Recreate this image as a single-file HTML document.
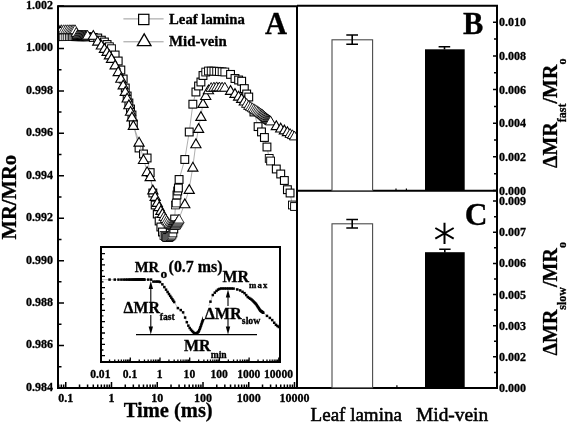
<!DOCTYPE html>
<html><head><meta charset="utf-8"><style>
html,body{margin:0;padding:0;background:#fff;overflow:hidden;}
svg{display:block;will-change:transform;filter:blur(0.3px);}
.b{font-family:"Liberation Serif",serif;font-weight:bold;fill:#000;stroke:#000;stroke-width:0.3px;}
.r{font-family:"Liberation Serif",serif;font-weight:normal;fill:#000;stroke:#000;stroke-width:0.25px;}
</style></head><body>
<svg width="567" height="423" viewBox="0 0 567 423">
<rect x="0" y="0" width="567" height="423" fill="#fff"/>
<defs><clipPath id="cA"><rect x="59" y="7" width="237" height="380"/></clipPath></defs>
<g clip-path="url(#cA)">
<path d="M51.98,36.65 L55.6,36.65 L58.66,36.66 L61.32,36.66 L63.66,36.66 L65.75,36.67 L67.64,36.67 L69.37,36.67 L70.96,36.68 L72.44,36.68 L73.81,36.68 L75.09,36.68 L76.29,36.68 L77.43,36.68 L78.5,36.69 L79.52,36.69 L80.49,36.69 L81.42,36.69 L82.3,36.69 L83.14,36.69 L83.96,36.69 L84.74,36.7 L85.48,36.7 L86.21,36.7 L86.9,36.7 L87.58,36.7 L93.29,37.43 L97.73,38 L101.35,40.17 L104.41,42 L107.07,44.51 L109.41,46.72 L111.5,48.7 L115.12,55 L118.19,61 L120.84,70 L123.18,79 L125.27,88 L127.17,96 L128.89,103 L130.49,109 L131.96,115 L133.33,124 L139.04,148 L143.48,154 L147.1,158 L150.16,172.6 L152.82,193 L155.16,205 L157.25,214 L159.14,221 L160.87,227 L162.46,232 L163.94,235.5 L165.31,236.53 L166.59,237.5 L167.79,237.5 L168.93,237.5 L170,236.73 L171.02,236 L171.99,235 L172.92,233 L173.8,229 L174.64,219 L175.46,205 L176.24,203 L176.98,195 L177.71,191 L178.4,188 L179.08,179.5 L184.79,159.5 L189.23,132 L192.85,104.2 L195.91,92 L198.57,86 L200.91,82 L203,75.5 L205.73,72.06 L208.46,71 L211.19,71.1 L213.91,71.2 L216.64,71.3 L219.37,71.53 L222.1,71.76 L224.83,72 L230.54,74.4 L234.98,78.5 L238.6,80 L241.66,81.2 L244.32,88.6 L246.66,94 L248.75,97 L253.96,112 L258.09,126.6 L261.5,131.9 L264.42,137.5 L266.96,147 L269.21,158.4 L270.58,161 L276.29,169 L280.73,174 L284.35,180.5 L287.41,189.7 L290.07,193 L292.41,205 L294.5,206.5" fill="none" stroke="#9a9a9a" stroke-width="0.8"/>
<rect x="48.08" y="32.75" width="7.8" height="7.8" fill="#fff" stroke="#000" stroke-width="1.1"/>
<rect x="51.7" y="32.75" width="7.8" height="7.8" fill="#fff" stroke="#000" stroke-width="1.1"/>
<rect x="54.76" y="32.76" width="7.8" height="7.8" fill="#fff" stroke="#000" stroke-width="0.95"/>
<rect x="57.42" y="32.76" width="7.8" height="7.8" fill="#fff" stroke="#000" stroke-width="0.95"/>
<rect x="59.76" y="32.76" width="7.8" height="7.8" fill="#fff" stroke="#000" stroke-width="0.8"/>
<rect x="61.85" y="32.77" width="7.8" height="7.8" fill="#fff" stroke="#000" stroke-width="0.8"/>
<rect x="63.74" y="32.77" width="7.8" height="7.8" fill="#fff" stroke="#000" stroke-width="0.8"/>
<rect x="65.47" y="32.77" width="7.8" height="7.8" fill="#fff" stroke="#000" stroke-width="0.8"/>
<rect x="67.06" y="32.78" width="7.8" height="7.8" fill="#fff" stroke="#000" stroke-width="0.8"/>
<rect x="68.54" y="32.78" width="7.8" height="7.8" fill="#fff" stroke="#000" stroke-width="0.8"/>
<rect x="69.91" y="32.78" width="7.8" height="7.8" fill="#fff" stroke="#000" stroke-width="0.8"/>
<rect x="71.19" y="32.78" width="7.8" height="7.8" fill="#fff" stroke="#000" stroke-width="0.95"/>
<rect x="72.39" y="32.78" width="7.8" height="7.8" fill="#fff" stroke="#000" stroke-width="0.95"/>
<rect x="73.53" y="32.78" width="7.8" height="7.8" fill="#fff" stroke="#000" stroke-width="0.95"/>
<rect x="74.6" y="32.79" width="7.8" height="7.8" fill="#fff" stroke="#000" stroke-width="0.95"/>
<rect x="75.62" y="32.79" width="7.8" height="7.8" fill="#fff" stroke="#000" stroke-width="0.95"/>
<rect x="76.59" y="32.79" width="7.8" height="7.8" fill="#fff" stroke="#000" stroke-width="0.95"/>
<rect x="77.52" y="32.79" width="7.8" height="7.8" fill="#fff" stroke="#000" stroke-width="0.95"/>
<rect x="78.4" y="32.79" width="7.8" height="7.8" fill="#fff" stroke="#000" stroke-width="0.95"/>
<rect x="79.24" y="32.79" width="7.8" height="7.8" fill="#fff" stroke="#000" stroke-width="0.95"/>
<rect x="80.06" y="32.79" width="7.8" height="7.8" fill="#fff" stroke="#000" stroke-width="0.95"/>
<rect x="80.84" y="32.8" width="7.8" height="7.8" fill="#fff" stroke="#000" stroke-width="0.95"/>
<rect x="81.58" y="32.8" width="7.8" height="7.8" fill="#fff" stroke="#000" stroke-width="0.95"/>
<rect x="82.31" y="32.8" width="7.8" height="7.8" fill="#fff" stroke="#000" stroke-width="0.95"/>
<rect x="83" y="32.8" width="7.8" height="7.8" fill="#fff" stroke="#000" stroke-width="0.95"/>
<rect x="83.68" y="32.8" width="7.8" height="7.8" fill="#fff" stroke="#000" stroke-width="0.95"/>
<rect x="89.39" y="33.53" width="7.8" height="7.8" fill="#fff" stroke="#000" stroke-width="1.1"/>
<rect x="93.83" y="34.1" width="7.8" height="7.8" fill="#fff" stroke="#000" stroke-width="1.1"/>
<rect x="97.45" y="36.27" width="7.8" height="7.8" fill="#fff" stroke="#000" stroke-width="1.1"/>
<rect x="100.51" y="38.1" width="7.8" height="7.8" fill="#fff" stroke="#000" stroke-width="1.1"/>
<rect x="103.17" y="40.61" width="7.8" height="7.8" fill="#fff" stroke="#000" stroke-width="1.1"/>
<rect x="105.51" y="42.82" width="7.8" height="7.8" fill="#fff" stroke="#000" stroke-width="0.95"/>
<rect x="107.6" y="44.8" width="7.8" height="7.8" fill="#fff" stroke="#000" stroke-width="0.95"/>
<rect x="111.22" y="51.1" width="7.8" height="7.8" fill="#fff" stroke="#000" stroke-width="1.1"/>
<rect x="114.29" y="57.1" width="7.8" height="7.8" fill="#fff" stroke="#000" stroke-width="1.1"/>
<rect x="116.94" y="66.1" width="7.8" height="7.8" fill="#fff" stroke="#000" stroke-width="1.1"/>
<rect x="119.28" y="75.1" width="7.8" height="7.8" fill="#fff" stroke="#000" stroke-width="1.1"/>
<rect x="121.37" y="84.1" width="7.8" height="7.8" fill="#fff" stroke="#000" stroke-width="1.1"/>
<rect x="123.27" y="92.1" width="7.8" height="7.8" fill="#fff" stroke="#000" stroke-width="1.1"/>
<rect x="124.99" y="99.1" width="7.8" height="7.8" fill="#fff" stroke="#000" stroke-width="1.1"/>
<rect x="126.59" y="105.1" width="7.8" height="7.8" fill="#fff" stroke="#000" stroke-width="1.1"/>
<rect x="128.06" y="111.1" width="7.8" height="7.8" fill="#fff" stroke="#000" stroke-width="1.1"/>
<rect x="129.43" y="120.1" width="7.8" height="7.8" fill="#fff" stroke="#000" stroke-width="1.1"/>
<rect x="135.14" y="144.1" width="7.8" height="7.8" fill="#fff" stroke="#000" stroke-width="1.1"/>
<rect x="139.58" y="150.1" width="7.8" height="7.8" fill="#fff" stroke="#000" stroke-width="1.1"/>
<rect x="143.2" y="154.1" width="7.8" height="7.8" fill="#fff" stroke="#000" stroke-width="1.1"/>
<rect x="146.26" y="168.7" width="7.8" height="7.8" fill="#fff" stroke="#000" stroke-width="1.1"/>
<rect x="148.92" y="189.1" width="7.8" height="7.8" fill="#fff" stroke="#000" stroke-width="1.1"/>
<rect x="151.26" y="201.1" width="7.8" height="7.8" fill="#fff" stroke="#000" stroke-width="1.1"/>
<rect x="153.35" y="210.1" width="7.8" height="7.8" fill="#fff" stroke="#000" stroke-width="1.1"/>
<rect x="155.24" y="217.1" width="7.8" height="7.8" fill="#fff" stroke="#000" stroke-width="1.1"/>
<rect x="156.97" y="223.1" width="7.8" height="7.8" fill="#fff" stroke="#000" stroke-width="1.1"/>
<rect x="158.56" y="228.1" width="7.8" height="7.8" fill="#fff" stroke="#000" stroke-width="1.1"/>
<rect x="160.04" y="231.6" width="7.8" height="7.8" fill="#fff" stroke="#000" stroke-width="0.8"/>
<rect x="161.41" y="232.63" width="7.8" height="7.8" fill="#fff" stroke="#000" stroke-width="0.8"/>
<rect x="162.69" y="233.6" width="7.8" height="7.8" fill="#fff" stroke="#000" stroke-width="0.95"/>
<rect x="163.89" y="233.6" width="7.8" height="7.8" fill="#fff" stroke="#000" stroke-width="0.95"/>
<rect x="165.03" y="233.6" width="7.8" height="7.8" fill="#fff" stroke="#000" stroke-width="0.95"/>
<rect x="166.1" y="232.83" width="7.8" height="7.8" fill="#fff" stroke="#000" stroke-width="0.8"/>
<rect x="167.12" y="232.1" width="7.8" height="7.8" fill="#fff" stroke="#000" stroke-width="0.8"/>
<rect x="168.09" y="231.1" width="7.8" height="7.8" fill="#fff" stroke="#000" stroke-width="0.8"/>
<rect x="169.02" y="229.1" width="7.8" height="7.8" fill="#fff" stroke="#000" stroke-width="0.95"/>
<rect x="169.9" y="225.1" width="7.8" height="7.8" fill="#fff" stroke="#000" stroke-width="1.1"/>
<rect x="170.74" y="215.1" width="7.8" height="7.8" fill="#fff" stroke="#000" stroke-width="1.1"/>
<rect x="171.56" y="201.1" width="7.8" height="7.8" fill="#fff" stroke="#000" stroke-width="0.8"/>
<rect x="172.34" y="199.1" width="7.8" height="7.8" fill="#fff" stroke="#000" stroke-width="0.8"/>
<rect x="173.08" y="191.1" width="7.8" height="7.8" fill="#fff" stroke="#000" stroke-width="1.1"/>
<rect x="173.81" y="187.1" width="7.8" height="7.8" fill="#fff" stroke="#000" stroke-width="1.1"/>
<rect x="174.5" y="184.1" width="7.8" height="7.8" fill="#fff" stroke="#000" stroke-width="1.1"/>
<rect x="175.18" y="175.6" width="7.8" height="7.8" fill="#fff" stroke="#000" stroke-width="1.1"/>
<rect x="180.89" y="155.6" width="7.8" height="7.8" fill="#fff" stroke="#000" stroke-width="1.1"/>
<rect x="185.33" y="128.1" width="7.8" height="7.8" fill="#fff" stroke="#000" stroke-width="1.1"/>
<rect x="188.95" y="100.3" width="7.8" height="7.8" fill="#fff" stroke="#000" stroke-width="1.1"/>
<rect x="192.01" y="88.1" width="7.8" height="7.8" fill="#fff" stroke="#000" stroke-width="1.1"/>
<rect x="194.67" y="82.1" width="7.8" height="7.8" fill="#fff" stroke="#000" stroke-width="1.1"/>
<rect x="197.01" y="78.1" width="7.8" height="7.8" fill="#fff" stroke="#000" stroke-width="1.1"/>
<rect x="199.1" y="71.6" width="7.8" height="7.8" fill="#fff" stroke="#000" stroke-width="1.1"/>
<rect x="201.83" y="68.16" width="7.8" height="7.8" fill="#fff" stroke="#000" stroke-width="0.95"/>
<rect x="204.56" y="67.1" width="7.8" height="7.8" fill="#fff" stroke="#000" stroke-width="0.95"/>
<rect x="207.29" y="67.2" width="7.8" height="7.8" fill="#fff" stroke="#000" stroke-width="0.95"/>
<rect x="210.01" y="67.3" width="7.8" height="7.8" fill="#fff" stroke="#000" stroke-width="0.95"/>
<rect x="212.74" y="67.4" width="7.8" height="7.8" fill="#fff" stroke="#000" stroke-width="0.95"/>
<rect x="215.47" y="67.63" width="7.8" height="7.8" fill="#fff" stroke="#000" stroke-width="0.95"/>
<rect x="218.2" y="67.86" width="7.8" height="7.8" fill="#fff" stroke="#000" stroke-width="0.95"/>
<rect x="220.93" y="68.1" width="7.8" height="7.8" fill="#fff" stroke="#000" stroke-width="0.95"/>
<rect x="226.64" y="70.5" width="7.8" height="7.8" fill="#fff" stroke="#000" stroke-width="1.1"/>
<rect x="231.08" y="74.6" width="7.8" height="7.8" fill="#fff" stroke="#000" stroke-width="1.1"/>
<rect x="234.7" y="76.1" width="7.8" height="7.8" fill="#fff" stroke="#000" stroke-width="1.1"/>
<rect x="237.76" y="77.3" width="7.8" height="7.8" fill="#fff" stroke="#000" stroke-width="1.1"/>
<rect x="240.42" y="84.7" width="7.8" height="7.8" fill="#fff" stroke="#000" stroke-width="1.1"/>
<rect x="242.76" y="90.1" width="7.8" height="7.8" fill="#fff" stroke="#000" stroke-width="1.1"/>
<rect x="244.85" y="93.1" width="7.8" height="7.8" fill="#fff" stroke="#000" stroke-width="1.1"/>
<rect x="250.06" y="108.1" width="7.8" height="7.8" fill="#fff" stroke="#000" stroke-width="1.1"/>
<rect x="254.19" y="122.7" width="7.8" height="7.8" fill="#fff" stroke="#000" stroke-width="1.1"/>
<rect x="257.6" y="128" width="7.8" height="7.8" fill="#fff" stroke="#000" stroke-width="1.1"/>
<rect x="260.52" y="133.6" width="7.8" height="7.8" fill="#fff" stroke="#000" stroke-width="1.1"/>
<rect x="263.06" y="143.1" width="7.8" height="7.8" fill="#fff" stroke="#000" stroke-width="1.1"/>
<rect x="265.31" y="154.5" width="7.8" height="7.8" fill="#fff" stroke="#000" stroke-width="0.95"/>
<rect x="266.68" y="157.1" width="7.8" height="7.8" fill="#fff" stroke="#000" stroke-width="0.95"/>
<rect x="272.39" y="165.1" width="7.8" height="7.8" fill="#fff" stroke="#000" stroke-width="1.1"/>
<rect x="276.83" y="170.1" width="7.8" height="7.8" fill="#fff" stroke="#000" stroke-width="1.1"/>
<rect x="280.45" y="176.6" width="7.8" height="7.8" fill="#fff" stroke="#000" stroke-width="1.1"/>
<rect x="283.51" y="185.8" width="7.8" height="7.8" fill="#fff" stroke="#000" stroke-width="1.1"/>
<rect x="286.17" y="189.1" width="7.8" height="7.8" fill="#fff" stroke="#000" stroke-width="1.1"/>
<rect x="288.51" y="201.1" width="7.8" height="7.8" fill="#fff" stroke="#000" stroke-width="0.95"/>
<rect x="290.6" y="202.6" width="7.8" height="7.8" fill="#fff" stroke="#000" stroke-width="0.95"/>
<path d="M51.98,29.2 L55.6,29.2 L58.66,29.2 L61.32,29.2 L63.66,29.2 L65.75,29.2 L67.64,29.2 L69.37,29.2 L70.96,29.2 L72.44,29.2 L73.81,29.2 L75.09,29.2 L76.29,31.93 L77.43,34.5 L78.5,34.53 L79.52,34.55 L80.49,34.58 L81.42,34.6 L82.3,34.62 L83.14,34.64 L83.96,34.66 L84.74,34.68 L85.48,34.7 L86.21,34.72 L86.9,34.74 L87.58,34.76 L93.29,34.9 L97.73,40.7 L101.35,44.6 L104.41,48 L107.07,51 L109.41,54.5 L111.5,58 L115.12,64.5 L118.19,71.2 L120.84,77.8 L123.18,84.5 L125.27,91 L127.17,97.6 L128.89,104.3 L130.49,110.9 L131.96,116.5 L133.33,125 L139.04,141.7 L143.48,159.1 L147.1,171.2 L150.16,176.2 L152.82,189.5 L155.16,196 L157.25,202 L159.14,206.18 L160.87,210 L162.46,213.12 L163.94,216 L165.31,218.07 L166.59,220 L167.79,221.54 L168.93,223 L170,223.77 L171.02,224.5 L171.99,224.67 L172.92,224.84 L173.8,225 L174.64,224.74 L175.46,224.5 L176.24,223.23 L176.98,222 L177.71,220.83 L178.4,219.69 L179.08,218.6 L184.79,203.3 L189.23,189 L192.85,166.7 L195.91,143.3 L198.57,128 L200.91,116 L203,103 L205.73,95.14 L208.46,89.41 L211.19,86.98 L213.91,86.65 L216.64,86.32 L219.37,86.46 L222.1,86.63 L224.83,86.8 L230.54,90 L234.98,93 L238.6,95.71 L241.66,98 L244.32,100.62 L246.66,102.93 L248.75,105 L250.64,106.18 L252.37,107.25 L253.96,108.24 L255.44,109.15 L256.81,110 L258.09,110.9 L259.29,111.74 L260.43,112.54 L261.5,113.29 L262.52,114 L263.49,114.87 L264.42,115.71 L265.3,116.51 L266.14,117.27 L266.96,118 L267.74,118.54 L268.48,119.06 L269.21,119.55 L269.9,120.04 L270.58,120.5 L276.29,125.2 L280.73,127.6 L284.35,129.5 L287.41,131.2 L290.07,133 L292.41,134.2 L294.5,135.5" fill="none" stroke="#9a9a9a" stroke-width="0.8"/>
<path d="M51.98,24.8 L57.08,33.6 L46.88,33.6 Z" fill="#fff" stroke="#000" stroke-width="1.1" stroke-linejoin="miter"/>
<path d="M55.6,24.8 L60.7,33.6 L50.5,33.6 Z" fill="#fff" stroke="#000" stroke-width="1.1" stroke-linejoin="miter"/>
<path d="M58.66,24.8 L63.76,33.6 L53.56,33.6 Z" fill="#fff" stroke="#000" stroke-width="0.95" stroke-linejoin="miter"/>
<path d="M61.32,24.8 L66.42,33.6 L56.22,33.6 Z" fill="#fff" stroke="#000" stroke-width="0.95" stroke-linejoin="miter"/>
<path d="M63.66,24.8 L68.76,33.6 L58.56,33.6 Z" fill="#fff" stroke="#000" stroke-width="0.8" stroke-linejoin="miter"/>
<path d="M65.75,24.8 L70.85,33.6 L60.65,33.6 Z" fill="#fff" stroke="#000" stroke-width="0.8" stroke-linejoin="miter"/>
<path d="M67.64,24.8 L72.74,33.6 L62.54,33.6 Z" fill="#fff" stroke="#000" stroke-width="0.8" stroke-linejoin="miter"/>
<path d="M69.37,24.8 L74.47,33.6 L64.27,33.6 Z" fill="#fff" stroke="#000" stroke-width="0.8" stroke-linejoin="miter"/>
<path d="M70.96,24.8 L76.06,33.6 L65.86,33.6 Z" fill="#fff" stroke="#000" stroke-width="0.8" stroke-linejoin="miter"/>
<path d="M72.44,24.8 L77.54,33.6 L67.34,33.6 Z" fill="#fff" stroke="#000" stroke-width="0.8" stroke-linejoin="miter"/>
<path d="M73.81,24.8 L78.91,33.6 L68.71,33.6 Z" fill="#fff" stroke="#000" stroke-width="0.8" stroke-linejoin="miter"/>
<path d="M75.09,24.8 L80.19,33.6 L69.99,33.6 Z" fill="#fff" stroke="#000" stroke-width="0.8" stroke-linejoin="miter"/>
<path d="M76.29,27.53 L81.39,36.33 L71.19,36.33 Z" fill="#fff" stroke="#000" stroke-width="0.95" stroke-linejoin="miter"/>
<path d="M77.43,30.1 L82.53,38.9 L72.33,38.9 Z" fill="#fff" stroke="#000" stroke-width="0.95" stroke-linejoin="miter"/>
<path d="M78.5,30.13 L83.6,38.93 L73.4,38.93 Z" fill="#fff" stroke="#000" stroke-width="0.95" stroke-linejoin="miter"/>
<path d="M79.52,30.15 L84.62,38.95 L74.42,38.95 Z" fill="#fff" stroke="#000" stroke-width="0.95" stroke-linejoin="miter"/>
<path d="M80.49,30.18 L85.59,38.98 L75.39,38.98 Z" fill="#fff" stroke="#000" stroke-width="0.95" stroke-linejoin="miter"/>
<path d="M81.42,30.2 L86.52,39 L76.32,39 Z" fill="#fff" stroke="#000" stroke-width="0.95" stroke-linejoin="miter"/>
<path d="M82.3,30.22 L87.4,39.02 L77.2,39.02 Z" fill="#fff" stroke="#000" stroke-width="0.95" stroke-linejoin="miter"/>
<path d="M83.14,30.24 L88.24,39.04 L78.04,39.04 Z" fill="#fff" stroke="#000" stroke-width="0.95" stroke-linejoin="miter"/>
<path d="M83.96,30.26 L89.06,39.06 L78.86,39.06 Z" fill="#fff" stroke="#000" stroke-width="0.95" stroke-linejoin="miter"/>
<path d="M84.74,30.28 L89.84,39.08 L79.64,39.08 Z" fill="#fff" stroke="#000" stroke-width="0.95" stroke-linejoin="miter"/>
<path d="M85.48,30.3 L90.58,39.1 L80.38,39.1 Z" fill="#fff" stroke="#000" stroke-width="0.95" stroke-linejoin="miter"/>
<path d="M86.21,30.32 L91.31,39.12 L81.11,39.12 Z" fill="#fff" stroke="#000" stroke-width="0.95" stroke-linejoin="miter"/>
<path d="M86.9,30.34 L92,39.14 L81.8,39.14 Z" fill="#fff" stroke="#000" stroke-width="0.95" stroke-linejoin="miter"/>
<path d="M87.58,30.36 L92.68,39.16 L82.48,39.16 Z" fill="#fff" stroke="#000" stroke-width="0.95" stroke-linejoin="miter"/>
<path d="M93.29,30.5 L98.39,39.3 L88.19,39.3 Z" fill="#fff" stroke="#000" stroke-width="1.1" stroke-linejoin="miter"/>
<path d="M97.73,36.3 L102.83,45.1 L92.63,45.1 Z" fill="#fff" stroke="#000" stroke-width="1.1" stroke-linejoin="miter"/>
<path d="M101.35,40.2 L106.45,49 L96.25,49 Z" fill="#fff" stroke="#000" stroke-width="1.1" stroke-linejoin="miter"/>
<path d="M104.41,43.6 L109.51,52.4 L99.31,52.4 Z" fill="#fff" stroke="#000" stroke-width="1.1" stroke-linejoin="miter"/>
<path d="M107.07,46.6 L112.17,55.4 L101.97,55.4 Z" fill="#fff" stroke="#000" stroke-width="1.1" stroke-linejoin="miter"/>
<path d="M109.41,50.1 L114.51,58.9 L104.31,58.9 Z" fill="#fff" stroke="#000" stroke-width="1.1" stroke-linejoin="miter"/>
<path d="M111.5,53.6 L116.6,62.4 L106.4,62.4 Z" fill="#fff" stroke="#000" stroke-width="1.1" stroke-linejoin="miter"/>
<path d="M115.12,60.1 L120.22,68.9 L110.02,68.9 Z" fill="#fff" stroke="#000" stroke-width="1.1" stroke-linejoin="miter"/>
<path d="M118.19,66.8 L123.29,75.6 L113.09,75.6 Z" fill="#fff" stroke="#000" stroke-width="1.1" stroke-linejoin="miter"/>
<path d="M120.84,73.4 L125.94,82.2 L115.74,82.2 Z" fill="#fff" stroke="#000" stroke-width="1.1" stroke-linejoin="miter"/>
<path d="M123.18,80.1 L128.28,88.9 L118.08,88.9 Z" fill="#fff" stroke="#000" stroke-width="1.1" stroke-linejoin="miter"/>
<path d="M125.27,86.6 L130.37,95.4 L120.17,95.4 Z" fill="#fff" stroke="#000" stroke-width="1.1" stroke-linejoin="miter"/>
<path d="M127.17,93.2 L132.27,102 L122.07,102 Z" fill="#fff" stroke="#000" stroke-width="1.1" stroke-linejoin="miter"/>
<path d="M128.89,99.9 L133.99,108.7 L123.79,108.7 Z" fill="#fff" stroke="#000" stroke-width="1.1" stroke-linejoin="miter"/>
<path d="M130.49,106.5 L135.59,115.3 L125.39,115.3 Z" fill="#fff" stroke="#000" stroke-width="1.1" stroke-linejoin="miter"/>
<path d="M131.96,112.1 L137.06,120.9 L126.86,120.9 Z" fill="#fff" stroke="#000" stroke-width="1.1" stroke-linejoin="miter"/>
<path d="M133.33,120.6 L138.43,129.4 L128.23,129.4 Z" fill="#fff" stroke="#000" stroke-width="1.1" stroke-linejoin="miter"/>
<path d="M139.04,137.3 L144.14,146.1 L133.94,146.1 Z" fill="#fff" stroke="#000" stroke-width="1.1" stroke-linejoin="miter"/>
<path d="M143.48,154.7 L148.58,163.5 L138.38,163.5 Z" fill="#fff" stroke="#000" stroke-width="1.1" stroke-linejoin="miter"/>
<path d="M147.1,166.8 L152.2,175.6 L142,175.6 Z" fill="#fff" stroke="#000" stroke-width="1.1" stroke-linejoin="miter"/>
<path d="M150.16,171.8 L155.26,180.6 L145.06,180.6 Z" fill="#fff" stroke="#000" stroke-width="1.1" stroke-linejoin="miter"/>
<path d="M152.82,185.1 L157.92,193.9 L147.72,193.9 Z" fill="#fff" stroke="#000" stroke-width="1.1" stroke-linejoin="miter"/>
<path d="M155.16,191.6 L160.26,200.4 L150.06,200.4 Z" fill="#fff" stroke="#000" stroke-width="1.1" stroke-linejoin="miter"/>
<path d="M157.25,197.6 L162.35,206.4 L152.15,206.4 Z" fill="#fff" stroke="#000" stroke-width="1.1" stroke-linejoin="miter"/>
<path d="M159.14,201.78 L164.24,210.58 L154.04,210.58 Z" fill="#fff" stroke="#000" stroke-width="1.1" stroke-linejoin="miter"/>
<path d="M160.87,205.6 L165.97,214.4 L155.77,214.4 Z" fill="#fff" stroke="#000" stroke-width="1.1" stroke-linejoin="miter"/>
<path d="M162.46,208.72 L167.56,217.52 L157.36,217.52 Z" fill="#fff" stroke="#000" stroke-width="1.1" stroke-linejoin="miter"/>
<path d="M163.94,211.6 L169.04,220.4 L158.84,220.4 Z" fill="#fff" stroke="#000" stroke-width="0.95" stroke-linejoin="miter"/>
<path d="M165.31,213.67 L170.41,222.47 L160.21,222.47 Z" fill="#fff" stroke="#000" stroke-width="0.95" stroke-linejoin="miter"/>
<path d="M166.59,215.6 L171.69,224.4 L161.49,224.4 Z" fill="#fff" stroke="#000" stroke-width="0.8" stroke-linejoin="miter"/>
<path d="M167.79,217.14 L172.89,225.94 L162.69,225.94 Z" fill="#fff" stroke="#000" stroke-width="0.8" stroke-linejoin="miter"/>
<path d="M168.93,218.6 L174.03,227.4 L163.83,227.4 Z" fill="#fff" stroke="#000" stroke-width="0.8" stroke-linejoin="miter"/>
<path d="M170,219.37 L175.1,228.17 L164.9,228.17 Z" fill="#fff" stroke="#000" stroke-width="0.8" stroke-linejoin="miter"/>
<path d="M171.02,220.1 L176.12,228.9 L165.92,228.9 Z" fill="#fff" stroke="#000" stroke-width="0.95" stroke-linejoin="miter"/>
<path d="M171.99,220.27 L177.09,229.07 L166.89,229.07 Z" fill="#fff" stroke="#000" stroke-width="0.95" stroke-linejoin="miter"/>
<path d="M172.92,220.44 L178.02,229.24 L167.82,229.24 Z" fill="#fff" stroke="#000" stroke-width="0.95" stroke-linejoin="miter"/>
<path d="M173.8,220.6 L178.9,229.4 L168.7,229.4 Z" fill="#fff" stroke="#000" stroke-width="0.95" stroke-linejoin="miter"/>
<path d="M174.64,220.34 L179.74,229.14 L169.54,229.14 Z" fill="#fff" stroke="#000" stroke-width="0.95" stroke-linejoin="miter"/>
<path d="M175.46,220.1 L180.56,228.9 L170.36,228.9 Z" fill="#fff" stroke="#000" stroke-width="0.95" stroke-linejoin="miter"/>
<path d="M176.24,218.83 L181.34,227.63 L171.14,227.63 Z" fill="#fff" stroke="#000" stroke-width="0.8" stroke-linejoin="miter"/>
<path d="M176.98,217.6 L182.08,226.4 L171.88,226.4 Z" fill="#fff" stroke="#000" stroke-width="0.8" stroke-linejoin="miter"/>
<path d="M177.71,216.43 L182.81,225.23 L172.61,225.23 Z" fill="#fff" stroke="#000" stroke-width="0.8" stroke-linejoin="miter"/>
<path d="M178.4,215.29 L183.5,224.09 L173.3,224.09 Z" fill="#fff" stroke="#000" stroke-width="0.8" stroke-linejoin="miter"/>
<path d="M179.08,214.2 L184.18,223 L173.98,223 Z" fill="#fff" stroke="#000" stroke-width="0.8" stroke-linejoin="miter"/>
<path d="M184.79,198.9 L189.89,207.7 L179.69,207.7 Z" fill="#fff" stroke="#000" stroke-width="1.1" stroke-linejoin="miter"/>
<path d="M189.23,184.6 L194.33,193.4 L184.13,193.4 Z" fill="#fff" stroke="#000" stroke-width="1.1" stroke-linejoin="miter"/>
<path d="M192.85,162.3 L197.95,171.1 L187.75,171.1 Z" fill="#fff" stroke="#000" stroke-width="1.1" stroke-linejoin="miter"/>
<path d="M195.91,138.9 L201.01,147.7 L190.81,147.7 Z" fill="#fff" stroke="#000" stroke-width="1.1" stroke-linejoin="miter"/>
<path d="M198.57,123.6 L203.67,132.4 L193.47,132.4 Z" fill="#fff" stroke="#000" stroke-width="1.1" stroke-linejoin="miter"/>
<path d="M200.91,111.6 L206.01,120.4 L195.81,120.4 Z" fill="#fff" stroke="#000" stroke-width="1.1" stroke-linejoin="miter"/>
<path d="M203,98.6 L208.1,107.4 L197.9,107.4 Z" fill="#fff" stroke="#000" stroke-width="1.1" stroke-linejoin="miter"/>
<path d="M205.73,90.74 L210.83,99.54 L200.63,99.54 Z" fill="#fff" stroke="#000" stroke-width="1.1" stroke-linejoin="miter"/>
<path d="M208.46,85.01 L213.56,93.81 L203.36,93.81 Z" fill="#fff" stroke="#000" stroke-width="1.1" stroke-linejoin="miter"/>
<path d="M211.19,82.58 L216.29,91.38 L206.09,91.38 Z" fill="#fff" stroke="#000" stroke-width="0.95" stroke-linejoin="miter"/>
<path d="M213.91,82.25 L219.01,91.05 L208.81,91.05 Z" fill="#fff" stroke="#000" stroke-width="0.95" stroke-linejoin="miter"/>
<path d="M216.64,81.92 L221.74,90.72 L211.54,90.72 Z" fill="#fff" stroke="#000" stroke-width="0.95" stroke-linejoin="miter"/>
<path d="M219.37,82.06 L224.47,90.86 L214.27,90.86 Z" fill="#fff" stroke="#000" stroke-width="0.95" stroke-linejoin="miter"/>
<path d="M222.1,82.23 L227.2,91.03 L217,91.03 Z" fill="#fff" stroke="#000" stroke-width="0.95" stroke-linejoin="miter"/>
<path d="M224.83,82.4 L229.93,91.2 L219.73,91.2 Z" fill="#fff" stroke="#000" stroke-width="0.95" stroke-linejoin="miter"/>
<path d="M230.54,85.6 L235.64,94.4 L225.44,94.4 Z" fill="#fff" stroke="#000" stroke-width="1.1" stroke-linejoin="miter"/>
<path d="M234.98,88.6 L240.08,97.4 L229.88,97.4 Z" fill="#fff" stroke="#000" stroke-width="1.1" stroke-linejoin="miter"/>
<path d="M238.6,91.31 L243.7,100.11 L233.5,100.11 Z" fill="#fff" stroke="#000" stroke-width="1.1" stroke-linejoin="miter"/>
<path d="M241.66,93.6 L246.76,102.4 L236.56,102.4 Z" fill="#fff" stroke="#000" stroke-width="1.1" stroke-linejoin="miter"/>
<path d="M244.32,96.22 L249.42,105.02 L239.22,105.02 Z" fill="#fff" stroke="#000" stroke-width="1.1" stroke-linejoin="miter"/>
<path d="M246.66,98.53 L251.76,107.33 L241.56,107.33 Z" fill="#fff" stroke="#000" stroke-width="0.95" stroke-linejoin="miter"/>
<path d="M248.75,100.6 L253.85,109.4 L243.65,109.4 Z" fill="#fff" stroke="#000" stroke-width="0.95" stroke-linejoin="miter"/>
<path d="M250.64,101.78 L255.74,110.58 L245.54,110.58 Z" fill="#fff" stroke="#000" stroke-width="0.8" stroke-linejoin="miter"/>
<path d="M252.37,102.85 L257.47,111.65 L247.27,111.65 Z" fill="#fff" stroke="#000" stroke-width="0.8" stroke-linejoin="miter"/>
<path d="M253.96,103.84 L259.06,112.64 L248.86,112.64 Z" fill="#fff" stroke="#000" stroke-width="0.8" stroke-linejoin="miter"/>
<path d="M255.44,104.75 L260.54,113.55 L250.34,113.55 Z" fill="#fff" stroke="#000" stroke-width="0.8" stroke-linejoin="miter"/>
<path d="M256.81,105.6 L261.91,114.4 L251.71,114.4 Z" fill="#fff" stroke="#000" stroke-width="0.8" stroke-linejoin="miter"/>
<path d="M258.09,106.5 L263.19,115.3 L252.99,115.3 Z" fill="#fff" stroke="#000" stroke-width="0.8" stroke-linejoin="miter"/>
<path d="M259.29,107.34 L264.39,116.14 L254.19,116.14 Z" fill="#fff" stroke="#000" stroke-width="0.8" stroke-linejoin="miter"/>
<path d="M260.43,108.14 L265.53,116.94 L255.33,116.94 Z" fill="#fff" stroke="#000" stroke-width="0.8" stroke-linejoin="miter"/>
<path d="M261.5,108.89 L266.6,117.69 L256.4,117.69 Z" fill="#fff" stroke="#000" stroke-width="0.95" stroke-linejoin="miter"/>
<path d="M262.52,109.6 L267.62,118.4 L257.42,118.4 Z" fill="#fff" stroke="#000" stroke-width="0.95" stroke-linejoin="miter"/>
<path d="M263.49,110.47 L268.59,119.27 L258.39,119.27 Z" fill="#fff" stroke="#000" stroke-width="0.95" stroke-linejoin="miter"/>
<path d="M264.42,111.31 L269.52,120.11 L259.32,120.11 Z" fill="#fff" stroke="#000" stroke-width="0.95" stroke-linejoin="miter"/>
<path d="M265.3,112.11 L270.4,120.91 L260.2,120.91 Z" fill="#fff" stroke="#000" stroke-width="0.95" stroke-linejoin="miter"/>
<path d="M266.14,112.87 L271.24,121.67 L261.04,121.67 Z" fill="#fff" stroke="#000" stroke-width="0.95" stroke-linejoin="miter"/>
<path d="M266.96,113.6 L272.06,122.4 L261.86,122.4 Z" fill="#fff" stroke="#000" stroke-width="0.95" stroke-linejoin="miter"/>
<path d="M267.74,114.14 L272.84,122.94 L262.64,122.94 Z" fill="#fff" stroke="#000" stroke-width="0.95" stroke-linejoin="miter"/>
<path d="M268.48,114.66 L273.58,123.46 L263.38,123.46 Z" fill="#fff" stroke="#000" stroke-width="0.95" stroke-linejoin="miter"/>
<path d="M269.21,115.15 L274.31,123.95 L264.11,123.95 Z" fill="#fff" stroke="#000" stroke-width="0.95" stroke-linejoin="miter"/>
<path d="M269.9,115.64 L275,124.44 L264.8,124.44 Z" fill="#fff" stroke="#000" stroke-width="0.95" stroke-linejoin="miter"/>
<path d="M270.58,116.1 L275.68,124.9 L265.48,124.9 Z" fill="#fff" stroke="#000" stroke-width="0.95" stroke-linejoin="miter"/>
<path d="M276.29,120.8 L281.39,129.6 L271.19,129.6 Z" fill="#fff" stroke="#000" stroke-width="1.1" stroke-linejoin="miter"/>
<path d="M280.73,123.2 L285.83,132 L275.63,132 Z" fill="#fff" stroke="#000" stroke-width="1.1" stroke-linejoin="miter"/>
<path d="M284.35,125.1 L289.45,133.9 L279.25,133.9 Z" fill="#fff" stroke="#000" stroke-width="1.1" stroke-linejoin="miter"/>
<path d="M287.41,126.8 L292.51,135.6 L282.31,135.6 Z" fill="#fff" stroke="#000" stroke-width="1.1" stroke-linejoin="miter"/>
<path d="M290.07,128.6 L295.17,137.4 L284.97,137.4 Z" fill="#fff" stroke="#000" stroke-width="0.95" stroke-linejoin="miter"/>
<path d="M292.41,129.8 L297.51,138.6 L287.31,138.6 Z" fill="#fff" stroke="#000" stroke-width="0.95" stroke-linejoin="miter"/>
<path d="M294.5,131.1 L299.6,139.9 L289.4,139.9 Z" fill="#fff" stroke="#000" stroke-width="0.95" stroke-linejoin="miter"/>
</g>
<g stroke="#000" stroke-width="2" fill="none">
<path d="M58,387 V6.15 H297 V388 M57,388 H297"/>
</g>
<path d="M58,6 h6 M58,27.22 h3.5 M58,48.44 h6 M58,69.66 h3.5 M58,90.88 h6 M58,112.1 h3.5 M58,133.32 h6 M58,154.54 h3.5 M58,175.76 h6 M58,196.98 h3.5 M58,218.2 h6 M58,239.42 h3.5 M58,260.64 h6 M58,281.86 h3.5 M58,303.08 h6 M58,324.3 h3.5 M58,345.52 h6 M58,366.74 h3.5 M58,387.96 h6 M58.66,388 v-3.5 M61.32,388 v-3.5 M63.66,388 v-3.5 M65.75,388 v-6 M79.52,388 v-3.5 M87.58,388 v-3.5 M93.29,388 v-3.5 M97.73,388 v-3.5 M101.35,388 v-3.5 M104.41,388 v-3.5 M107.07,388 v-3.5 M109.41,388 v-3.5 M111.5,388 v-6 M125.27,388 v-3.5 M133.33,388 v-3.5 M139.04,388 v-3.5 M143.48,388 v-3.5 M147.1,388 v-3.5 M150.16,388 v-3.5 M152.82,388 v-3.5 M155.16,388 v-3.5 M157.25,388 v-6 M171.02,388 v-3.5 M179.08,388 v-3.5 M184.79,388 v-3.5 M189.23,388 v-3.5 M192.85,388 v-3.5 M195.91,388 v-3.5 M198.57,388 v-3.5 M200.91,388 v-3.5 M203,388 v-6 M216.77,388 v-3.5 M224.83,388 v-3.5 M230.54,388 v-3.5 M234.98,388 v-3.5 M238.6,388 v-3.5 M241.66,388 v-3.5 M244.32,388 v-3.5 M246.66,388 v-3.5 M248.75,388 v-6 M262.52,388 v-3.5 M270.58,388 v-3.5 M276.29,388 v-3.5 M280.73,388 v-3.5 M284.35,388 v-3.5 M287.41,388 v-3.5 M290.07,388 v-3.5 M292.41,388 v-3.5 M294.5,388 v-6" stroke="#000" stroke-width="1.5" fill="none"/>
<text x="53" y="8.9" text-anchor="end" class="b" font-size="12">1.002</text>
<text x="53" y="51.34" text-anchor="end" class="b" font-size="12">1.000</text>
<text x="53" y="93.78" text-anchor="end" class="b" font-size="12">0.998</text>
<text x="53" y="136.22" text-anchor="end" class="b" font-size="12">0.996</text>
<text x="53" y="178.66" text-anchor="end" class="b" font-size="12">0.994</text>
<text x="53" y="221.1" text-anchor="end" class="b" font-size="12">0.992</text>
<text x="53" y="263.54" text-anchor="end" class="b" font-size="12">0.990</text>
<text x="53" y="305.98" text-anchor="end" class="b" font-size="12">0.988</text>
<text x="53" y="348.42" text-anchor="end" class="b" font-size="12">0.986</text>
<text x="53" y="390.86" text-anchor="end" class="b" font-size="12">0.984</text>
<text x="65.75" y="402" text-anchor="middle" class="b" font-size="12">0.1</text>
<text x="111.5" y="402" text-anchor="middle" class="b" font-size="12">1</text>
<text x="157.25" y="402" text-anchor="middle" class="b" font-size="12">10</text>
<text x="203" y="402" text-anchor="middle" class="b" font-size="12">100</text>
<text x="248.75" y="402" text-anchor="middle" class="b" font-size="12">1000</text>
<text x="294.5" y="402" text-anchor="middle" class="b" font-size="12">10000</text>
<text x="168.2" y="417.3" text-anchor="middle" class="b" font-size="20.5">Time (ms)</text>
<text transform="translate(16.3,197.2) rotate(-90)" x="0" y="0" text-anchor="middle" class="b" font-size="20.6">MR/MRo</text>
<path d="M123.4,18.9 H163.6 M123.4,41.8 H163.6" stroke="#999" stroke-width="1"/>
<rect x="138.6" y="14.3" width="10.3" height="10.3" fill="#fff" stroke="#000" stroke-width="1.2"/>
<path d="M144.2,33.9 L151,45.6 L137.4,45.6 Z" fill="#fff" stroke="#000" stroke-width="1.3"/>
<text x="169" y="23.8" class="b" font-size="14.75">Leaf lamina</text>
<text x="169" y="46.3" class="b" font-size="14.85">Mid-vein</text>
<text x="265" y="33.7" class="b" font-size="30.5">A</text>
<defs><clipPath id="cI"><rect x="102" y="248" width="177" height="113"/></clipPath></defs>
<path d="M100.6,279.6 L109.54,279.6 L114.77,279.6 L118.48,279.6 L121.36,279.6 L123.71,279.6 L125.7,279.6 L127.42,279.6 L128.94,279.6 L130.3,279.6 L131.53,279.6 L132.65,279.6 L133.68,279.6 L134.64,279.6 L135.53,279.6 L136.36,279.6 L137.14,279.6 L137.88,279.6 L138.58,279.6 L139.24,279.6 L139.87,279.6 L140.47,279.6 L141.04,279.6 L141.59,279.6 L142.12,279.6 L142.62,279.6 L143.11,279.6 L143.58,279.6 L144.03,279.6 L144.47,279.6 L148.18,279.6 L151.06,279.6 L153.41,281.6 L155.4,281.6 L157.12,281.6 L158.64,281.6 L160,282 L162.35,284.37 L164.34,287.09 L166.06,289.66 L167.58,291.97 L168.94,294.03 L170.17,295.91 L171.29,297.62 L172.32,299.2 L173.28,300.67 L174.17,302.04 L177.88,308.1 L180.76,310.07 L183.11,312.38 L185.1,317.56 L186.82,322.22 L188.34,325.65 L189.7,327.99 L190.93,329.63 L192.05,330.96 L193.08,332.02 L194.04,332.93 L194.93,333.21 L195.76,333.48 L196.54,333.62 L197.28,332.87 L197.98,332.17 L198.64,331.49 L199.27,330.2 L199.87,328.69 L200.44,327.24 L200.99,325.61 L201.52,324.02 L202.02,322.5 L202.51,321.19 L202.98,319.97 L203.43,318.8 L203.87,317.7 L207.58,309 L210.46,301.66 L212.81,295.04 L214.8,292.65 L216.52,290.92 L218.04,289.64 L219.4,288.93 L221.17,288.5 L222.94,288.5 L224.71,288.5 L226.49,288.5 L228.26,288.5 L230.03,288.5 L231.8,288.5 L233.57,288.61 L237.28,289.45 L240.16,290.41 L242.51,291.8 L244.5,293.15 L246.22,295.1 L247.74,297 L249.1,297.92 L250.33,298.75 L251.45,299.51 L252.48,300.42 L253.44,301.4 L254.33,302.31 L255.16,303.16 L255.94,303.96 L256.68,305.03 L257.38,306.1 L258.04,307.12 L258.67,308.09 L259.27,309.01 L259.84,309.9 L260.39,310.62 L260.92,311 L261.42,311.37 L261.91,311.73 L262.38,312.07 L262.83,312.41 L263.27,312.75 L266.98,315.88 L269.86,317.93 L272.21,320.09 L274.2,322.74 L275.92,324.84 L277.44,325.98 L278.8,327" fill="none" stroke="#aaa" stroke-width="0.7" clip-path="url(#cI)"/>
<rect x="108.29" y="278.35" width="2.5" height="2.5" fill="#000"/><rect x="113.52" y="278.35" width="2.5" height="2.5" fill="#000"/><rect x="117.23" y="278.35" width="2.5" height="2.5" fill="#000"/><rect x="120.11" y="278.35" width="2.5" height="2.5" fill="#000"/><rect x="122.46" y="278.35" width="2.5" height="2.5" fill="#000"/><rect x="124.45" y="278.35" width="2.5" height="2.5" fill="#000"/><rect x="126.17" y="278.35" width="2.5" height="2.5" fill="#000"/><rect x="127.69" y="278.35" width="2.5" height="2.5" fill="#000"/><rect x="129.05" y="278.35" width="2.5" height="2.5" fill="#000"/><rect x="130.28" y="278.35" width="2.5" height="2.5" fill="#000"/><rect x="131.4" y="278.35" width="2.5" height="2.5" fill="#000"/><rect x="132.43" y="278.35" width="2.5" height="2.5" fill="#000"/><rect x="133.39" y="278.35" width="2.5" height="2.5" fill="#000"/><rect x="134.28" y="278.35" width="2.5" height="2.5" fill="#000"/><rect x="135.11" y="278.35" width="2.5" height="2.5" fill="#000"/><rect x="135.89" y="278.35" width="2.5" height="2.5" fill="#000"/><rect x="136.63" y="278.35" width="2.5" height="2.5" fill="#000"/><rect x="137.33" y="278.35" width="2.5" height="2.5" fill="#000"/><rect x="137.99" y="278.35" width="2.5" height="2.5" fill="#000"/><rect x="138.62" y="278.35" width="2.5" height="2.5" fill="#000"/><rect x="139.22" y="278.35" width="2.5" height="2.5" fill="#000"/><rect x="139.79" y="278.35" width="2.5" height="2.5" fill="#000"/><rect x="140.34" y="278.35" width="2.5" height="2.5" fill="#000"/><rect x="140.87" y="278.35" width="2.5" height="2.5" fill="#000"/><rect x="141.37" y="278.35" width="2.5" height="2.5" fill="#000"/><rect x="141.86" y="278.35" width="2.5" height="2.5" fill="#000"/><rect x="142.33" y="278.35" width="2.5" height="2.5" fill="#000"/><rect x="142.78" y="278.35" width="2.5" height="2.5" fill="#000"/><rect x="143.22" y="278.35" width="2.5" height="2.5" fill="#000"/><rect x="146.93" y="278.35" width="2.5" height="2.5" fill="#000"/><rect x="149.81" y="278.35" width="2.5" height="2.5" fill="#000"/><rect x="152.16" y="280.35" width="2.5" height="2.5" fill="#000"/><rect x="154.15" y="280.35" width="2.5" height="2.5" fill="#000"/><rect x="155.87" y="280.35" width="2.5" height="2.5" fill="#000"/><rect x="157.39" y="280.35" width="2.5" height="2.5" fill="#000"/><rect x="158.75" y="280.75" width="2.5" height="2.5" fill="#000"/><rect x="161.1" y="283.12" width="2.5" height="2.5" fill="#000"/><rect x="163.09" y="285.84" width="2.5" height="2.5" fill="#000"/><rect x="164.81" y="288.41" width="2.5" height="2.5" fill="#000"/><rect x="166.33" y="290.72" width="2.5" height="2.5" fill="#000"/><rect x="167.69" y="292.78" width="2.5" height="2.5" fill="#000"/><rect x="168.92" y="294.66" width="2.5" height="2.5" fill="#000"/><rect x="170.04" y="296.37" width="2.5" height="2.5" fill="#000"/><rect x="171.07" y="297.95" width="2.5" height="2.5" fill="#000"/><rect x="172.03" y="299.42" width="2.5" height="2.5" fill="#000"/><rect x="172.92" y="300.79" width="2.5" height="2.5" fill="#000"/><rect x="176.63" y="306.85" width="2.5" height="2.5" fill="#000"/><rect x="179.51" y="308.82" width="2.5" height="2.5" fill="#000"/><rect x="181.86" y="311.13" width="2.5" height="2.5" fill="#000"/><rect x="183.85" y="316.31" width="2.5" height="2.5" fill="#000"/><rect x="185.57" y="320.97" width="2.5" height="2.5" fill="#000"/><rect x="187.09" y="324.4" width="2.5" height="2.5" fill="#000"/><rect x="188.45" y="326.74" width="2.5" height="2.5" fill="#000"/><rect x="189.68" y="328.38" width="2.5" height="2.5" fill="#000"/><rect x="190.8" y="329.71" width="2.5" height="2.5" fill="#000"/><rect x="191.83" y="330.77" width="2.5" height="2.5" fill="#000"/><rect x="192.79" y="331.68" width="2.5" height="2.5" fill="#000"/><rect x="193.68" y="331.96" width="2.5" height="2.5" fill="#000"/><rect x="194.51" y="332.23" width="2.5" height="2.5" fill="#000"/><rect x="195.29" y="332.37" width="2.5" height="2.5" fill="#000"/><rect x="196.03" y="331.62" width="2.5" height="2.5" fill="#000"/><rect x="196.73" y="330.92" width="2.5" height="2.5" fill="#000"/><rect x="197.39" y="330.24" width="2.5" height="2.5" fill="#000"/><rect x="198.02" y="328.95" width="2.5" height="2.5" fill="#000"/><rect x="198.62" y="327.44" width="2.5" height="2.5" fill="#000"/><rect x="199.19" y="325.99" width="2.5" height="2.5" fill="#000"/><rect x="199.74" y="324.36" width="2.5" height="2.5" fill="#000"/><rect x="200.27" y="322.77" width="2.5" height="2.5" fill="#000"/><rect x="200.77" y="321.25" width="2.5" height="2.5" fill="#000"/><rect x="201.26" y="319.94" width="2.5" height="2.5" fill="#000"/><rect x="201.73" y="318.72" width="2.5" height="2.5" fill="#000"/><rect x="202.18" y="317.55" width="2.5" height="2.5" fill="#000"/><rect x="202.62" y="316.45" width="2.5" height="2.5" fill="#000"/><rect x="206.33" y="307.75" width="2.5" height="2.5" fill="#000"/><rect x="209.21" y="300.41" width="2.5" height="2.5" fill="#000"/><rect x="211.56" y="293.79" width="2.5" height="2.5" fill="#000"/><rect x="213.55" y="291.4" width="2.5" height="2.5" fill="#000"/><rect x="215.27" y="289.67" width="2.5" height="2.5" fill="#000"/><rect x="216.79" y="288.39" width="2.5" height="2.5" fill="#000"/><rect x="218.15" y="287.68" width="2.5" height="2.5" fill="#000"/><rect x="219.92" y="287.25" width="2.5" height="2.5" fill="#000"/><rect x="221.69" y="287.25" width="2.5" height="2.5" fill="#000"/><rect x="223.46" y="287.25" width="2.5" height="2.5" fill="#000"/><rect x="225.24" y="287.25" width="2.5" height="2.5" fill="#000"/><rect x="227.01" y="287.25" width="2.5" height="2.5" fill="#000"/><rect x="228.78" y="287.25" width="2.5" height="2.5" fill="#000"/><rect x="230.55" y="287.25" width="2.5" height="2.5" fill="#000"/><rect x="232.32" y="287.36" width="2.5" height="2.5" fill="#000"/><rect x="236.03" y="288.2" width="2.5" height="2.5" fill="#000"/><rect x="238.91" y="289.16" width="2.5" height="2.5" fill="#000"/><rect x="241.26" y="290.55" width="2.5" height="2.5" fill="#000"/><rect x="243.25" y="291.9" width="2.5" height="2.5" fill="#000"/><rect x="244.97" y="293.85" width="2.5" height="2.5" fill="#000"/><rect x="246.49" y="295.75" width="2.5" height="2.5" fill="#000"/><rect x="247.85" y="296.67" width="2.5" height="2.5" fill="#000"/><rect x="249.08" y="297.5" width="2.5" height="2.5" fill="#000"/><rect x="250.2" y="298.26" width="2.5" height="2.5" fill="#000"/><rect x="251.23" y="299.17" width="2.5" height="2.5" fill="#000"/><rect x="252.19" y="300.15" width="2.5" height="2.5" fill="#000"/><rect x="253.08" y="301.06" width="2.5" height="2.5" fill="#000"/><rect x="253.91" y="301.91" width="2.5" height="2.5" fill="#000"/><rect x="254.69" y="302.71" width="2.5" height="2.5" fill="#000"/><rect x="255.43" y="303.78" width="2.5" height="2.5" fill="#000"/><rect x="256.13" y="304.85" width="2.5" height="2.5" fill="#000"/><rect x="256.79" y="305.87" width="2.5" height="2.5" fill="#000"/><rect x="257.42" y="306.84" width="2.5" height="2.5" fill="#000"/><rect x="258.02" y="307.76" width="2.5" height="2.5" fill="#000"/><rect x="258.59" y="308.65" width="2.5" height="2.5" fill="#000"/><rect x="259.14" y="309.37" width="2.5" height="2.5" fill="#000"/><rect x="259.67" y="309.75" width="2.5" height="2.5" fill="#000"/><rect x="260.17" y="310.12" width="2.5" height="2.5" fill="#000"/><rect x="260.66" y="310.48" width="2.5" height="2.5" fill="#000"/><rect x="261.13" y="310.82" width="2.5" height="2.5" fill="#000"/><rect x="261.58" y="311.16" width="2.5" height="2.5" fill="#000"/><rect x="262.02" y="311.5" width="2.5" height="2.5" fill="#000"/><rect x="265.73" y="314.63" width="2.5" height="2.5" fill="#000"/><rect x="268.61" y="316.68" width="2.5" height="2.5" fill="#000"/><rect x="270.96" y="318.84" width="2.5" height="2.5" fill="#000"/><rect x="272.95" y="321.49" width="2.5" height="2.5" fill="#000"/><rect x="274.67" y="323.59" width="2.5" height="2.5" fill="#000"/><rect x="276.19" y="324.73" width="2.5" height="2.5" fill="#000"/><rect x="277.55" y="325.75" width="2.5" height="2.5" fill="#000"/>
<rect x="101" y="247" width="179" height="115" fill="none" stroke="#000" stroke-width="2"/>
<path d="M101,253.6 h4 M101,259.27 h2.5 M101,264.94 h4 M101,270.61 h2.5 M101,276.28 h4 M101,281.95 h2.5 M101,287.62 h4 M101,293.29 h2.5 M101,298.96 h4 M101,304.63 h2.5 M101,310.3 h4 M101,315.97 h2.5 M101,321.64 h4 M101,327.31 h2.5 M101,332.98 h4 M101,338.65 h2.5 M101,344.32 h4 M101,349.99 h2.5 M101,355.66 h4 M109.54,362 v-2.5 M114.77,362 v-2.5 M118.48,362 v-2.5 M121.36,362 v-2.5 M123.71,362 v-2.5 M125.7,362 v-2.5 M127.42,362 v-2.5 M128.94,362 v-2.5 M130.3,362 v-4.5 M139.24,362 v-2.5 M144.47,362 v-2.5 M148.18,362 v-2.5 M151.06,362 v-2.5 M153.41,362 v-2.5 M155.4,362 v-2.5 M157.12,362 v-2.5 M158.64,362 v-2.5 M160,362 v-4.5 M168.94,362 v-2.5 M174.17,362 v-2.5 M177.88,362 v-2.5 M180.76,362 v-2.5 M183.11,362 v-2.5 M185.1,362 v-2.5 M186.82,362 v-2.5 M188.34,362 v-2.5 M189.7,362 v-4.5 M198.64,362 v-2.5 M203.87,362 v-2.5 M207.58,362 v-2.5 M210.46,362 v-2.5 M212.81,362 v-2.5 M214.8,362 v-2.5 M216.52,362 v-2.5 M218.04,362 v-2.5 M219.4,362 v-4.5 M228.34,362 v-2.5 M233.57,362 v-2.5 M237.28,362 v-2.5 M240.16,362 v-2.5 M242.51,362 v-2.5 M244.5,362 v-2.5 M246.22,362 v-2.5 M247.74,362 v-2.5 M249.1,362 v-4.5 M258.04,362 v-2.5 M263.27,362 v-2.5 M266.98,362 v-2.5 M269.86,362 v-2.5 M272.21,362 v-2.5 M274.2,362 v-2.5 M275.92,362 v-2.5 M277.44,362 v-2.5 M278.8,362 v-4.5" stroke="#000" stroke-width="1.3" fill="none"/>
<text x="100.3" y="378" text-anchor="middle" class="b" font-size="11.6">0.01</text>
<text x="130" y="378" text-anchor="middle" class="b" font-size="11.6">0.1</text>
<text x="159.7" y="378" text-anchor="middle" class="b" font-size="11.6">1</text>
<text x="189.4" y="378" text-anchor="middle" class="b" font-size="11.6">10</text>
<text x="219.1" y="378" text-anchor="middle" class="b" font-size="11.6">100</text>
<text x="248.8" y="378" text-anchor="middle" class="b" font-size="11.6">1000</text>
<text x="278.5" y="378" text-anchor="middle" class="b" font-size="11.6">10000</text>
<path d="M136,334.6 H257" stroke="#000" stroke-width="1.3"/>
<path d="M150.8,287 V328.6" stroke="#000" stroke-width="1.1"/><path d="M150.8,281 L153,289 L148.6,289 Z" fill="#000"/><path d="M150.8,334.6 L153,326.6 L148.6,326.6 Z" fill="#000"/>
<path d="M228,295.5 V328.6" stroke="#000" stroke-width="1.1"/><path d="M228,289.5 L230.2,297.5 L225.8,297.5 Z" fill="#000"/><path d="M228,334.6 L230.2,326.6 L225.8,326.6 Z" fill="#000"/>
<rect x="120" y="302" width="40" height="13" fill="#fff"/>
<rect x="203" y="306" width="40" height="13" fill="#fff"/>
<text x="134.8" y="271.8" class="b" font-size="14.6">MR<tspan font-size="13.5" dx="1.4" dy="6">o</tspan></text>
<text x="168.6" y="271.8" class="b" font-size="15.9">(0.7 ms)</text>
<text x="222.4" y="281.6" class="b" font-size="15.9">MR<tspan font-size="8.8" dy="6.3" letter-spacing="1.2">max</tspan></text>
<text x="123.6" y="313.2" class="b" font-size="15.8">ΔMR<tspan font-size="9.6" dy="6.4">fast</tspan></text>
<text x="204.7" y="318.5" class="b" font-size="16.2">ΔMR<tspan font-size="9.8" dy="5.8">slow</tspan></text>
<text x="184" y="351" class="b" font-size="16">MR<tspan font-size="9.6" dy="6.8">min</tspan></text>
<g stroke="#000" stroke-width="2" fill="none">
<path d="M297,5.7 H497 V388 H297 M297,190.8 H497"/>
</g>
<path d="M497,22.3 h-4 M497,39.12 h-3 M497,55.94 h-4 M497,72.76 h-3 M497,89.58 h-4 M497,106.4 h-3 M497,123.22 h-4 M497,140.04 h-3 M497,156.86 h-4 M497,173.68 h-3 M497,190.5 h-4 M497,201.1 h-4 M497,216.67 h-3 M497,232.25 h-4 M497,247.82 h-3 M497,263.4 h-4 M497,278.97 h-3 M497,294.55 h-4 M497,310.12 h-3 M497,325.7 h-4 M497,341.27 h-3 M497,356.85 h-4 M497,372.43 h-3 M497,388 h-4" stroke="#000" stroke-width="1.5" fill="none"/>
<text x="499" y="26.3" class="b" font-size="12">0.010</text>
<text x="499" y="59.94" class="b" font-size="12">0.008</text>
<text x="499" y="93.58" class="b" font-size="12">0.006</text>
<text x="499" y="127.22" class="b" font-size="12">0.004</text>
<text x="499" y="160.86" class="b" font-size="12">0.002</text>
<text x="499" y="194.5" class="b" font-size="12">0.000</text>
<text x="499" y="205.1" class="b" font-size="12">0.009</text>
<text x="499" y="236.25" class="b" font-size="12">0.007</text>
<text x="499" y="267.4" class="b" font-size="12">0.006</text>
<text x="499" y="298.55" class="b" font-size="12">0.005</text>
<text x="499" y="329.7" class="b" font-size="12">0.003</text>
<text x="499" y="360.85" class="b" font-size="12">0.002</text>
<text x="499" y="392" class="b" font-size="12">0.000</text>
<path d="M396,190 v-1.6 M406.4,190 v-1.6 M396.9,387 v-1.8" stroke="#000" stroke-width="1.2"/>
<rect x="332" y="39.8" width="40.6" height="151" fill="#fff" stroke="#4a4a4a" stroke-width="1.1"/>
<rect x="425" y="49.3" width="39.7" height="141.5" fill="#000"/>
<path d="M352.2,35 V44.3 M346.3,35 H358 M346.3,44.3 H358" stroke="#000" stroke-width="1.6"/>
<path d="M444.5,46.8 V49.5 M438.6,46.8 H450.2" stroke="#000" stroke-width="1.6"/>
<rect x="332" y="223.8" width="40.6" height="164" fill="#fff" stroke="#4a4a4a" stroke-width="1.1"/>
<rect x="425" y="252.2" width="39.7" height="135.8" fill="#000"/>
<path d="M352.2,219.5 V228 M346.3,219.5 H358 M346.3,228 H358" stroke="#000" stroke-width="1.6"/>
<path d="M444.8,249.2 V252.5 M439.2,249.2 H450.6" stroke="#000" stroke-width="1.6"/>
<path d="M444.5,243.9 L444.5,222.7 M435.32,238.6 L453.68,228 M435.32,228 L453.68,238.6" stroke="#000" stroke-width="2"/>
<text x="463" y="34.3" class="b" font-size="30.5">B</text>
<text x="464.8" y="225" class="b" font-size="31.5">C</text>
<text transform="translate(557,168) rotate(-90)" class="b" font-size="20">ΔMR<tspan font-size="12" dy="8.5">fast</tspan><tspan dy="-8.5">/MR</tspan><tspan font-size="12" dy="8.5">o</tspan></text>
<text transform="translate(557,355.5) rotate(-90)" class="b" font-size="20">ΔMR<tspan font-size="12" dy="8.5">slow</tspan><tspan dy="-8.5">/MR</tspan><tspan font-size="12" dy="8.5">o</tspan></text>
<text x="310.6" y="421.3" class="r" font-size="19" style="stroke-width:0.55px">Leaf lamina</text>
<text x="416" y="421.3" class="r" font-size="19.4" style="stroke-width:0.55px">Mid-vein</text>
</svg>
</body></html>
